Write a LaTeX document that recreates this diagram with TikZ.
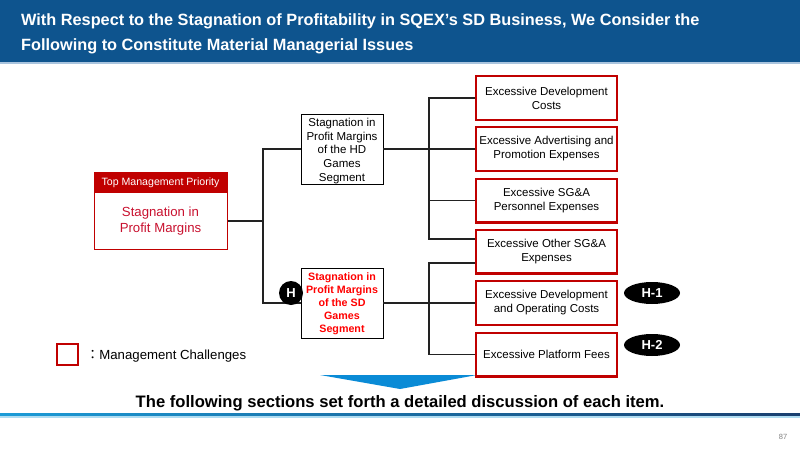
\documentclass[tikz,border=0pt]{standalone}
\usepackage{fontspec}
\setmainfont{Liberation Sans}
\newfontfamily\cjk{Noto Sans CJK JP}
\usetikzlibrary{shapes.geometric}
\definecolor{hdrblue}{HTML}{0E548E}
\definecolor{hdrline}{HTML}{A9C4DE}
\definecolor{dred}{HTML}{C00000}
\definecolor{sdred}{HTML}{FF0000}
\definecolor{tmred}{HTML}{C8102E}
\definecolor{tri}{HTML}{0A8BD6}
\definecolor{lineL}{HTML}{1B9BD7}
\definecolor{lineR}{HTML}{1A3F6F}
\definecolor{conncol}{HTML}{222222}
\tikzset{
  rbox/.style={draw=dred, line width=2.4pt, minimum width=140.6pt, minimum height=43.6pt,
    inner sep=0pt, align=center, font=\fontsize{11.5}{14}\selectfont},
  gbox/.style={draw=black, line width=0.9pt, minimum width=82pt, minimum height=70pt,
    inner sep=0pt, align=center},
  conn/.style={draw=conncol, line width=1.1pt},
  hoval/.style={ellipse, fill=black, minimum width=56pt, minimum height=22pt, inner sep=0pt,
    text=white, font=\bfseries\fontsize{13}{13}\selectfont}
}
\begin{document}
\begin{tikzpicture}[x=1pt,y=-1pt]
\useasboundingbox (0,0) rectangle (800,450);
% header
\fill[hdrblue] (0,0) rectangle (800,62);
\fill[hdrline] (0,62) rectangle (800,64);
\node[anchor=base west, inner sep=0pt, text=white, font=\bfseries\fontsize{16.3}{16}\selectfont] (t1) at (21,25)
  {With Respect to the Stagnation of Profitability in SQEX’s SD Business, We Consider the};
\node[anchor=base west, inner sep=0pt, text=white, font=\bfseries\fontsize{16.3}{16}\selectfont] (t2) at (21,50)
  {Following to Constitute Material Managerial Issues};

% triangle (behind boxes)
\fill[tri] (320,375) -- (477,375) -- (400,389) -- cycle;

% top management box
\node[draw=dred, line width=1pt, minimum width=133pt, minimum height=77pt, inner sep=0pt] (tm) at (160.5,210.5) {};
\fill[dred] (94,172) rectangle (227,193);
\node[text=white, font=\fontsize{10.6}{12}\selectfont, inner sep=0pt] (tmh) at (160.5,182.5) {Top Management Priority};
\node[text=tmred, align=center, font=\fontsize{13.2}{16}\selectfont, inner sep=0pt] (tmb) at (160.5,221) {Stagnation in\\Profit Margins};

% middle boxes
\node[gbox] (hd) at (342,149) {};
\node[align=center, inner sep=0pt, font=\fontsize{11.5}{13.8}\selectfont] (hdt) at (342,151) {Stagnation in\\Profit Margins\\of the HD\\Games\\Segment};
\node[gbox] (sd) at (342,303) {};
\node[align=center, inner sep=0pt, text=sdred, font=\bfseries\fontsize{10.7}{12.9}\selectfont] (sdt) at (342,304) {Stagnation in\\Profit Margins\\of the SD\\Games\\Segment};

% right boxes
\node[rbox] (e1) at (546.5,98) {Excessive Development\\Costs};
\node[rbox] (e2) at (546.5,149) {Excessive Advertising and\\Promotion Expenses};
\node[rbox] (e3) at (546.5,200.5) {Excessive SG\&A\\Personnel Expenses};
\node[rbox] (e4) at (546.5,251.5) {Excessive Other SG\&A\\Expenses};
\node[rbox] (e5) at (546.5,303) {Excessive Development\\and Operating Costs};
\node[rbox] (e6) at (546.5,354.5) {Excessive Platform Fees};

% junctions
\coordinate (j1) at (263,221);
\coordinate (j2) at (429,149);
\coordinate (j3) at (429,303);
\coordinate (e4a) at (475,239);
\coordinate (e4b) at (475,263);

% connectors
\draw[conn] (tm.east |- j1) -- (j1);
\draw[conn] (hd.west) -| (j1) |- (sd.west);
\draw[conn] (hd.east) -- (j2);
\draw[conn] (e1.west) -| (j2) |- (e4a);
\draw[conn] (e2.west) -- (j2);
\draw[conn] (e3.west) -- (e3.west -| j2);
\draw[conn] (sd.east) -- (e5.west);
\draw[conn] (e4b) -| (j3) |- (e6.west);

% H markers
\node[circle, fill=black, minimum size=24pt, inner sep=0pt, text=white, font=\bfseries\fontsize{13}{13}\selectfont] (h) at (291,293) {H};
\node[hoval] (h1) at (652,293) {H-1};
\node[hoval] (h2) at (652,345) {H-2};

% legend
\node[draw=dred, line width=2pt, minimum size=21pt, inner sep=0pt] (lg) at (67,354.5) {};
\node[anchor=west, inner sep=0pt, font=\fontsize{13.2}{14}\selectfont] (lgt) at (86,356) {{\cjk ：}Management Challenges};

% bottom text
\node[font=\bfseries\fontsize{16.6}{16}\selectfont, inner sep=0pt] (bt) at (400,403)
  {The following sections set forth a detailed discussion of each item.};
\shade[left color=lineL, right color=lineR] (0,413) rectangle (800,416);
\fill[lineL!35] (0,416) rectangle (800,417.5);
\node[text=gray, font=\fontsize{7.5}{7.5}\selectfont, inner sep=0pt] (pg) at (783,437) {87};
\end{tikzpicture}
\end{document}
